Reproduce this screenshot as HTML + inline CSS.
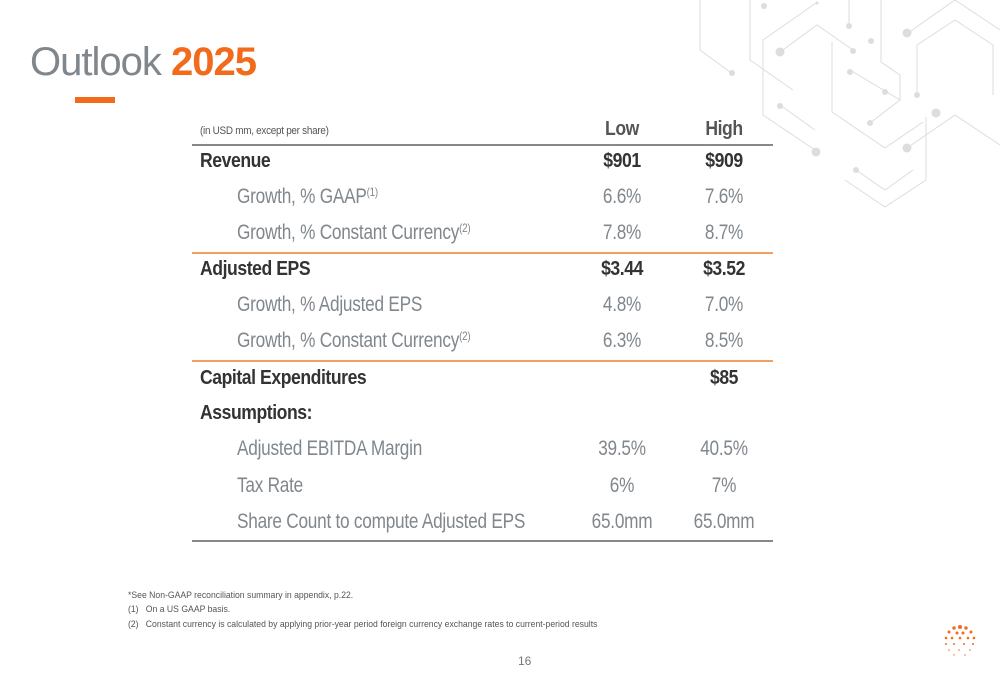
<!DOCTYPE html>
<html><head><meta charset="utf-8"><style>
body{margin:0;width:1000px;height:685px;background:#fff;position:relative;overflow:hidden;font-family:"Liberation Sans",sans-serif;}
.a{position:absolute;white-space:nowrap;}
.b{font-weight:bold;color:#333;font-size:20px;letter-spacing:-0.5px;transform:scaleX(0.88);transform-origin:left center;}
.l{color:#80878d;font-size:21px;letter-spacing:-0.3px;transform:scaleX(0.82);transform-origin:left center;}
.c{text-align:center;width:110px;transform-origin:center center;}
sup{font-size:12px;vertical-align:7px;}
.line{position:absolute;left:192px;width:581px;height:1.5px;}
.fn{position:absolute;font-size:9.5px;color:#555;left:128px;transform:scaleX(0.91);transform-origin:left center;}
</style></head><body>
<svg class="a" style="left:690px;top:0" width="310" height="210" viewBox="0 0 310 210" fill="none" stroke="#ddd" stroke-width="1">
<path d="M10 0 L10 50 L40 72"/><path d="M60 0 L60 60 L103 90"/><path d="M126 3 L73 40 L73 115 L125 150"/><path d="M90 52 L127 25 L163 50"/><path d="M142 42 L142 112 L195 148 L233 122"/><path d="M159 0 L159 25"/><path d="M191 0 L191 62 L210 75 L210 100 L160 70"/><path d="M180 123 L210 100"/><path d="M218 33 L265 0"/><path d="M227 95 L227 45 L265 20 L303 45 L303 95"/><path d="M265 0 L310 30"/><path d="M236 117 L236 180 L195 207 L155 180"/><path d="M166 170 L195 190 L223 170"/><path d="M90 105 L125 130"/><path d="M217 148 L265 115 L310 145"/>
<g fill="#ddd" stroke="none"><circle cx="74" cy="6" r="3"/><circle cx="42" cy="73" r="3"/><circle cx="90" cy="52" r="4.5"/><circle cx="159" cy="26" r="3"/><circle cx="163" cy="51" r="3"/><circle cx="181" cy="41" r="3"/><circle cx="160" cy="72" r="3"/><circle cx="217" cy="33" r="4.5"/><circle cx="195" cy="92" r="3"/><circle cx="227" cy="95" r="3"/><circle cx="90" cy="106" r="3"/><circle cx="180" cy="123" r="3"/><circle cx="246" cy="113" r="4.5"/><circle cx="126" cy="152" r="4.5"/><circle cx="217" cy="148" r="4.5"/><circle cx="166" cy="170" r="3"/><circle cx="127" cy="3" r="1.5"/></g></svg>
<div class="a" style="left:30px;top:40px;font-size:40px;color:#7f868c;letter-spacing:-1px">Outlook <b style="color:#f26a1b">2025</b></div>
<div class="a" style="left:75px;top:97px;width:40px;height:6px;background:#f26a1b"></div>

<div class="a" style="left:200px;top:125px;font-size:11px;color:#555;letter-spacing:-0.3px;transform:scaleX(0.9);transform-origin:left">(in USD mm, except per share)</div>
<div class="a b c" style="left:567px;top:118px;color:#555">Low</div>
<div class="a b c" style="left:669px;top:118px;color:#555">High</div>
<div class="line" style="top:144px;background:#888"></div>

<div>
<div class="a b" style="left:200px;top:150px">Revenue</div><div class="a b c" style="left:567px;top:150px">$901</div><div class="a b c" style="left:669px;top:150px">$909</div>
<div class="a l" style="left:237px;top:185px">Growth, % GAAP<sup>(1)</sup></div><div class="a l c" style="left:567px;top:185px">6.6%</div><div class="a l c" style="left:669px;top:185px">7.6%</div>
<div class="a l" style="left:237px;top:221px">Growth, % Constant Currency<sup>(2)</sup></div><div class="a l c" style="left:567px;top:221px">7.8%</div><div class="a l c" style="left:669px;top:221px">8.7%</div>
<div class="line" style="top:252px;background:#f5a060"></div>
<div class="a b" style="left:200px;top:258px">Adjusted EPS</div><div class="a b c" style="left:567px;top:258px">$3.44</div><div class="a b c" style="left:669px;top:258px">$3.52</div>
<div class="a l" style="left:237px;top:293px">Growth, % Adjusted EPS</div><div class="a l c" style="left:567px;top:293px">4.8%</div><div class="a l c" style="left:669px;top:293px">7.0%</div>
<div class="a l" style="left:237px;top:329px">Growth, % Constant Currency<sup>(2)</sup></div><div class="a l c" style="left:567px;top:329px">6.3%</div><div class="a l c" style="left:669px;top:329px">8.5%</div>
<div class="line" style="top:360px;background:#f5a060"></div>
<div class="a b" style="left:200px;top:367px">Capital Expenditures</div><div class="a b c" style="left:669px;top:367px">$85</div>
<div class="a b" style="left:200px;top:402px">Assumptions:</div>
<div class="a l" style="left:237px;top:437px">Adjusted EBITDA Margin</div><div class="a l c" style="left:567px;top:437px">39.5%</div><div class="a l c" style="left:669px;top:437px">40.5%</div>
<div class="a l" style="left:237px;top:474px">Tax Rate</div><div class="a l c" style="left:567px;top:474px">6%</div><div class="a l c" style="left:669px;top:474px">7%</div>
<div class="a l" style="left:237px;top:510px">Share Count to compute Adjusted EPS</div><div class="a l c" style="left:567px;top:510px">65.0mm</div><div class="a l c" style="left:669px;top:510px">65.0mm</div>
</div>
<div class="line" style="top:540px;background:#888"></div>

<div class="fn" style="top:590px">*See Non-GAAP reconciliation summary in appendix, p.22.</div>
<div class="fn" style="top:604px">(1)&nbsp;&nbsp;&nbsp;On a US GAAP basis.</div>
<div class="fn" style="top:619px">(2)&nbsp;&nbsp;&nbsp;Constant currency is calculated by applying prior-year period foreign currency exchange rates to current-period results</div>
<div class="a" style="left:518px;top:654px;font-size:12px;color:#777">16</div>
<svg class="a" style="left:940px;top:622px" width="40" height="40" viewBox="0 0 40 40">
<g fill="#f26a1b"><circle cx="20" cy="5" r="2"/><circle cx="14" cy="6" r="1.7"/><circle cx="26" cy="6" r="1.7"/><circle cx="9" cy="10" r="1.5"/><circle cx="31" cy="10" r="1.5"/><circle cx="17" cy="11" r="1.5"/><circle cx="23" cy="11" r="1.5"/><circle cx="6" cy="16" r="1.3"/><circle cx="12" cy="16" r="1.3"/><circle cx="20" cy="16" r="1.3"/><circle cx="28" cy="16" r="1.3"/><circle cx="34" cy="16" r="1.3"/><circle cx="6" cy="22" r="1"/><circle cx="14" cy="22" r="1"/><circle cx="24" cy="22" r="1"/><circle cx="33" cy="22" r="1"/><circle cx="9" cy="28" r="0.8"/><circle cx="19" cy="28" r="0.8"/><circle cx="30" cy="28" r="0.8"/><circle cx="14" cy="33" r="0.7"/><circle cx="25" cy="33" r="0.7"/></g></svg>
</body></html>
